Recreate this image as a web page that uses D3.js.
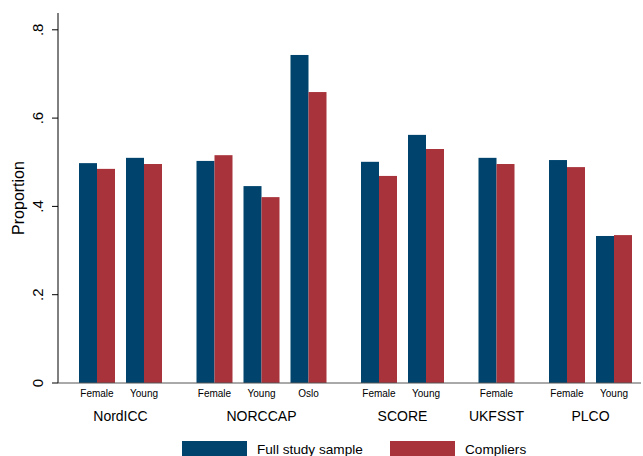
<!DOCTYPE html>
<html><head><meta charset="utf-8">
<script src="https://cdn.jsdelivr.net/npm/d3@7"></script>
<style>body{margin:0;background:#fff}svg{display:block}text{font-family:"Liberation Sans",Arial,sans-serif;fill:#000}</style>
</head><body><div id="chart"></div>
<script>
const groups = ["NordICC","NORCCAP","SCORE","UKFSST","PLCO"];
const subLabels = ["Female","Young","Female","Young","Oslo","Female","Young","Female","Female","Young"];
const groupOf = [0,0,1,1,1,2,2,3,4,4];
const fullSample = [0.498,0.510,0.503,0.446,0.743,0.501,0.562,0.510,0.505,0.333];
const compliers = [0.485,0.496,0.516,0.421,0.659,0.469,0.530,0.496,0.489,0.335];
const seriesNames = ["Full study sample","Compliers"];
const colors = ["#00446e","#a8333a"];
const yTicks = [0,0.2,0.4,0.6,0.8];
const yTickLabels = ["0",".2",".4",".6",".8"];

const W=643,H=456;
const svg=d3.select("#chart").append("svg").attr("width",W).attr("height",H);

// slot positions: groups separated by half a slot gap
const slots=[]; let pos=0;
groupOf.forEach((g,i)=>{ if(i>0){ pos += (g!==groupOf[i-1]) ? 1.5 : 1; } slots.push(pos); });

const y=d3.scaleLinear().domain([0,0.8]).range([383,29.8]);
const x=d3.scaleLinear().domain([0,slots[slots.length-1]]).range([97,614]);
const barW=18;

// y axis
svg.append("line").attr("x1",58).attr("x2",58).attr("y1",13).attr("y2",383).attr("stroke","#000").attr("stroke-width",1);
const yAxis=svg.append("g");
yTicks.forEach((t,i)=>{
  yAxis.append("line").attr("x1",52).attr("x2",58).attr("y1",y(t)).attr("y2",y(t)).attr("stroke","#000");
  yAxis.append("text").attr("transform",`translate(43,${y(t)}) rotate(-90)`).attr("text-anchor","middle")
    .attr("font-size",15).text(yTickLabels[i]);
});
svg.append("text").attr("transform","translate(24,198) rotate(-90)").attr("text-anchor","middle")
  .attr("font-size",16).text("Proportion");

// bars
const data=[fullSample,compliers];
data.forEach((vals,s)=>{
  svg.append("g").selectAll("rect").data(vals).join("rect")
    .attr("x",(d,i)=>x(slots[i]) + (s===0?-barW:0))
    .attr("width",barW)
    .attr("y",d=>y(d))
    .attr("height",d=>y(0)-y(d))
    .attr("fill",colors[s]);
});

// baseline
svg.append("line").attr("x1",58).attr("x2",641).attr("y1",383).attr("y2",383).attr("stroke","#555").attr("stroke-width",1);

// sub labels
svg.append("g").selectAll("text").data(subLabels).join("text")
  .attr("x",(d,i)=>x(slots[i])).attr("y",397).attr("text-anchor","middle").attr("font-size",10)
  .attr("fill","#222").text(d=>d);

// group labels
groups.forEach((g,gi)=>{
  const idx=groupOf.map((v,i)=>v===gi?i:-1).filter(i=>i>=0);
  const cx=(x(slots[idx[0]])+x(slots[idx[idx.length-1]]))/2;
  svg.append("text").attr("x",cx).attr("y",421).attr("text-anchor","middle").attr("font-size",14).text(g);
});

// legend
const legX=[182,390];
seriesNames.forEach((n,i)=>{
  svg.append("rect").attr("x",legX[i]).attr("y",441).attr("width",65).attr("height",16).attr("fill",colors[i]);
  svg.append("text").attr("x",legX[i]+75).attr("y",454).attr("font-size",13.6).text(n);
});
</script></body></html>
